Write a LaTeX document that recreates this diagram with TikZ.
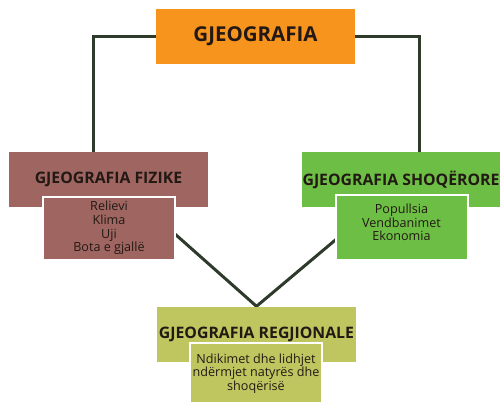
\documentclass[tikz,border=0pt]{standalone}
\usepackage{fontspec}
\setmainfont{Open Sans}
\usepackage{tikz}
\usetikzlibrary{positioning,calc,backgrounds}
\definecolor{geoorange}{RGB}{247,148,29}
\definecolor{geobrown}{RGB}{158,101,97}
\definecolor{geogreen}{RGB}{109,190,69}
\definecolor{geoolive}{RGB}{191,198,96}
\definecolor{geoline}{RGB}{46,58,42}
\definecolor{geotext}{RGB}{35,25,20}
\tikzstyle{headbox}=[rectangle,inner sep=0pt,minimum width=199pt,minimum height=55pt,text=geotext,font=\bfseries\fontsize{15.8}{17}\selectfont]
\tikzstyle{subbox}=[rectangle,draw=white,line width=2pt,inner sep=0pt,minimum width=132pt,text=geotext,align=center,font=\fontsize{12.6}{13.6}\selectfont]
\tikzstyle{link}=[draw=geoline,line width=3pt]

\begin{document}
\begin{tikzpicture}[x=1pt,y=-1pt]
      \useasboundingbox (0,0) rectangle (500,403);
      \node[headbox,fill=geoorange,font=\bfseries\fontsize{20.5}{22}\selectfont] at (255.5,36.5) (geo) {\raisebox{-3pt}{GJEOGRAFIA}};
      \node[headbox,fill=geobrown] at (108.5,179.5) (fiz) {\raisebox{-1.5pt}{GJEOGRAFIA FIZIKE}};
      \node[headbox,fill=geogreen] at (401,179.5) (sho) {\raisebox{-1.5pt}{GJEOGRAFIA SHOQËRORE}};
      \node[headbox,fill=geoolive] at (256.5,334) (reg) {GJEOGRAFIA REGJIONALE};
      \node[subbox,fill=geobrown,minimum height=63pt,text depth=4pt] at (109,228.5) (fizsub) {Relievi\\Klima\\Uji\\Bota e gjallë};
      \node[subbox,fill=geogreen,minimum height=65pt,text depth=10pt] at (401.5,227.5) (shosub) {Popullsia\\Vendbanimet\\Ekonomia};
      \node[subbox,fill=geoolive,minimum height=60pt,text depth=2pt] at (256,373) (regsub) {Ndikimet dhe lidhjet\\ndërmjet natyrës dhe\\shoqërisë};
      \begin{scope}[on background layer]
        \draw[link] (geo.west) -| ($(fiz.north)+(-15.5,0)$);
        \draw[link] (geo.east) -| ($(sho.north)+(18,0)$);
        \draw[link,line join=miter] ($(fizsub.east)+(-5,2)$) -- (reg.north) -- ($(shosub.west)+(5,9)$);
      \end{scope}
\end{tikzpicture}
\end{document}
